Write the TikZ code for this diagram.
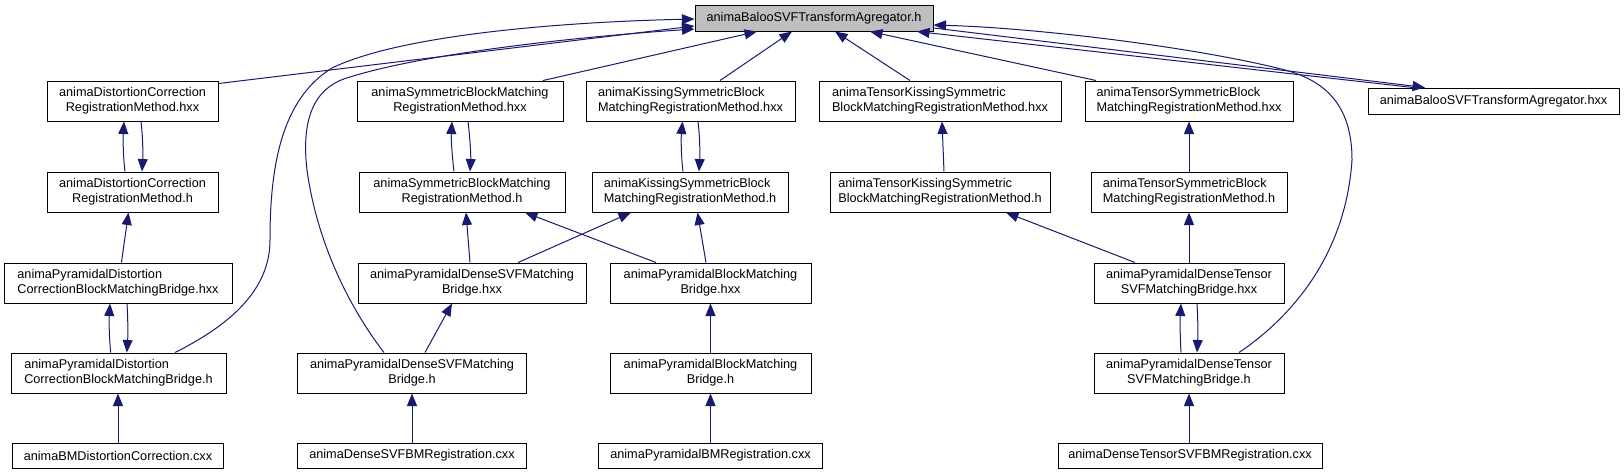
\documentclass[tikz,border=0pt]{standalone}
\usepackage{fontspec}
\setmainfont{Liberation Sans}
\usetikzlibrary{arrows.meta}
\definecolor{edgeblue}{HTML}{191970}
\definecolor{topgray}{HTML}{BFBFBF}
\begin{document}
\begin{tikzpicture}[x=1pt,y=-1pt,
  box/.style={draw=black, line width=1pt, fill=white, inner sep=0pt,
    minimum height=40pt, font=\fontsize{12.7}{15}\selectfont},
  one/.style={minimum height=25pt},
  edge/.style={draw=edgeblue, line width=1pt, -{Triangle[length=12.5pt,width=10pt]}}]
\useasboundingbox (0,0) rectangle (1624,475);

% top
\node[box, one, fill=topgray, minimum width=238pt, minimum height=26pt] (T) at (814,18) {animaBalooSVFTransformAgregator.h};
\node[box, one, minimum width=251pt, minimum height=26pt] (F) at (1493.5,101) {animaBalooSVFTransformAgregator.hxx};
% column A
\node[box, align=center, minimum width=171pt] (A1) at (132.5,101) {animaDistortionCorrection\\RegistrationMethod.hxx};
\node[box, align=center, minimum width=171pt] (A2) at (132.5,192) {animaDistortionCorrection\\RegistrationMethod.h};
\node[box, align=left, minimum width=228pt] (A3) at (118,283) {animaPyramidalDistortion\\CorrectionBlockMatchingBridge.hxx};
\node[box, align=left, minimum width=215pt] (A4) at (118.5,373) {animaPyramidalDistortion\\CorrectionBlockMatchingBridge.h};
\node[box, one, minimum width=211.5pt] (A5) at (118,455.5) {animaBMDistortionCorrection.cxx};
% column B
\node[box, align=center, minimum width=206pt] (B1) at (460,101) {animaSymmetricBlockMatching\\RegistrationMethod.hxx};
\node[box, align=center, minimum width=206pt] (B2) at (462,192) {animaSymmetricBlockMatching\\RegistrationMethod.h};
\node[box, align=center, minimum width=228pt] (B3) at (472,283) {animaPyramidalDenseSVFMatching\\Bridge.hxx};
\node[box, align=center, minimum width=228.5pt] (B4) at (412,373) {animaPyramidalDenseSVFMatching\\Bridge.h};
\node[box, one, minimum width=228.5pt] (B5) at (412,455.5) {animaDenseSVFBMRegistration.cxx};
% column C
\node[box, align=left, minimum width=209pt] (C1) at (690.5,101) {animaKissingSymmetricBlock\\MatchingRegistrationMethod.hxx};
\node[box, align=left, minimum width=196pt] (C2) at (690,192) {animaKissingSymmetricBlock\\MatchingRegistrationMethod.h};
\node[box, align=center, minimum width=201pt] (C3) at (710.5,283) {animaPyramidalBlockMatching\\Bridge.hxx};
\node[box, align=center, minimum width=201pt] (C4) at (710.5,373) {animaPyramidalBlockMatching\\Bridge.h};
\node[box, one, minimum width=224pt] (C5) at (710.5,455.5) {animaPyramidalBMRegistration.cxx};
% column D
\node[box, align=left, minimum width=242pt] (D1) at (940,101) {animaTensorKissingSymmetric\\BlockMatchingRegistrationMethod.hxx};
\node[box, align=left, minimum width=220pt] (D2) at (940,192) {animaTensorKissingSymmetric\\BlockMatchingRegistrationMethod.h};
% column E
\node[box, align=left, minimum width=208pt] (E1) at (1189,101) {animaTensorSymmetricBlock\\MatchingRegistrationMethod.hxx};
\node[box, align=left, minimum width=196pt] (E2) at (1189,192) {animaTensorSymmetricBlock\\MatchingRegistrationMethod.h};
\node[box, align=center, minimum width=190pt] (E3) at (1189,283) {animaPyramidalDenseTensor\\SVFMatchingBridge.hxx};
\node[box, align=center, minimum width=190pt] (E4) at (1189,373) {animaPyramidalDenseTensor\\SVFMatchingBridge.h};
\node[box, one, minimum width=264pt] (E5) at (1190,455.5) {animaDenseTensorSVFBMRegistration.cxx};

% edges into the top node
\draw[edge] ([yshift=-3]A1.north east) -- ([yshift=-8]T.west);
\draw[edge] ([xshift=56.5]A4.north) .. controls (230,325) and (270,290) .. (270,240)
  .. controls (270,170) and (280,100) .. (332,68)
  .. controls (400,35) and (560,22) .. ([yshift=-1]T.west);
\draw[edge] ([xshift=-28]B4.north) .. controls (355,315) and (318,250) .. (307,170)
  .. controls (300,110) and (320,85) .. (350,77)
  .. controls (420,55) and (560,38) .. ([yshift=-11]T.west);
\draw[edge] ([xshift=83]B1.north) -- ([xshift=-57]T.south);
\draw[edge] ([xshift=29.5]C1.north) -- ([xshift=-22]T.south);
\draw[edge] ([xshift=-30]D1.north) -- ([xshift=21]T.south);
\draw[edge] ([xshift=-93]E1.north) -- ([xshift=56]T.south);
\draw[edge] ([xshift=-80.5]F.north) -- ([xshift=103]T.south);
\draw[edge] ([yshift=-10]T.east) -- ([xshift=-68.5]F.north);
\draw[edge] ([xshift=50]E4.north) .. controls (1280,325) and (1345,265) .. (1352,160)
  .. controls (1352,110) and (1330,82) .. (1285,70)
  .. controls (1200,48) and (1040,28) .. ([yshift=-7]T.east);

% column A
\draw[edge] ([xshift=-7.5]A2.north) .. controls (123,155) and (123,138) .. ([xshift=-8.5]A1.south);
\draw[edge] ([xshift=8.5]A1.south) .. controls (143,138) and (143,155) .. ([xshift=9.5]A2.north);
\draw[edge] ([xshift=3.4]A3.north) -- ([xshift=-4]A2.south);
\draw[edge] ([xshift=-7.8]A4.north) .. controls (109,335) and (109,320) .. ([xshift=-8]A3.south);
\draw[edge] ([xshift=9]A3.south) .. controls (128,320) and (128,335) .. ([xshift=8.3]A4.north);
\draw[edge] (A5.north) -- (A5.north |- A4.south);

% column B / C
\draw[edge] ([xshift=-8]B2.north) .. controls (452,155) and (451,138) .. ([xshift=-8]B1.south);
\draw[edge] ([xshift=8]B1.south) .. controls (470,138) and (471,155) .. ([xshift=8]B2.north);
\draw[edge] ([xshift=-2]B3.north) -- ([xshift=4]B2.south);
\draw[edge] ([xshift=-54.5]C3.north) -- ([xshift=63]B2.south);
\draw[edge] ([xshift=46]B3.north) -- ([xshift=-59]C2.south);
\draw[edge] ([xshift=-4.5]C3.north) -- ([xshift=7.5]C2.south);
\draw[edge] ([xshift=-7]C2.north) .. controls (681,155) and (681,138) .. ([xshift=-8]C1.south);
\draw[edge] ([xshift=7.5]C1.south) .. controls (700,138) and (700,155) .. ([xshift=9]C2.north);
\draw[edge] ([xshift=13]B4.north) -- ([xshift=-20]B3.south);
\draw[edge] (B5.north) -- (B4.south);
\draw[edge] (C4.north) -- (C3.south);
\draw[edge] (C5.north) -- (C4.south);

% column D / E
\draw[edge] ([xshift=4]D2.north) -- ([xshift=2]D1.south);
\draw[edge] ([xshift=-54]E3.north) -- ([xshift=66]D2.south);
\draw[edge] (E2.north) -- (E1.south);
\draw[edge] (E3.north) -- (E2.south);
\draw[edge] ([xshift=-8]E4.north) .. controls (1180,335) and (1180,320) .. ([xshift=-8]E3.south);
\draw[edge] ([xshift=8]E3.south) .. controls (1198,320) and (1198,335) .. ([xshift=8]E4.north);
\draw[edge] ([xshift=-1]E5.north) -- (E4.south);
\end{tikzpicture}
\end{document}
